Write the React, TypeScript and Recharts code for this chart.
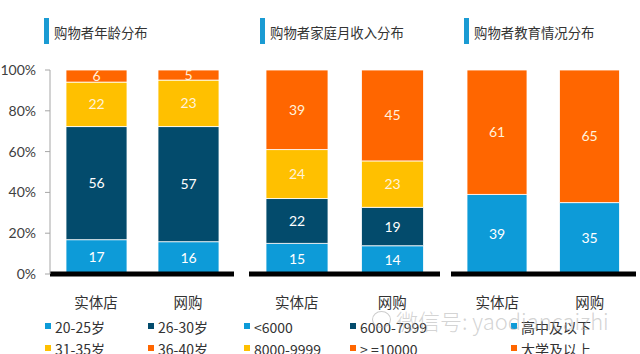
import { BarChart, Bar, XAxis, YAxis, LabelList } from 'recharts'

const STORES = ['实体店', '网购']

// 年龄
const AGE_20_25 = [17, 16]
const AGE_26_30 = [56, 57]
const AGE_31_35 = [22, 23]
const AGE_36_40 = [6, 5]

// 家庭月收入
const INC_LT_6000 = [15, 14]
const INC_6000_7999 = [22, 19]
const INC_8000_9999 = [24, 23]
const INC_GE_10000 = [39, 45]

// 教育
const EDU_HIGH = [39, 35]
const EDU_UNI = [61, 65]

const Y_TICKS = [0, 0.2, 0.4, 0.6, 0.8, 1]

const TITLES = ['购物者年龄分布', '购物者家庭月收入分布', '购物者教育情况分布']
const LEGEND_ROW1 = ['20-25岁', '26-30岁', '<6000', '6000-7999', '高中及以下']
const LEGEND_ROW2 = ['31-35岁', '36-40岁', '8000-9999', '> =10000', '大学及以上']

const BLUE = '#0d9bd8'
const NAVY = '#034b6c'
const YELLOW = '#ffc000'
const ORANGE = '#ff6600'

const CJK = '"Noto Sans CJK SC", sans-serif'
const NUM = 'Lato, "Noto Sans", sans-serif'

const rows = (series: Record<string, number[]>) =>
  STORES.map((name, i) => {
    const r: Record<string, string | number> = { name }
    Object.keys(series).forEach((k) => (r[k] = series[k][i]))
    return r
  })

const ageData = rows({ a: AGE_20_25, b: AGE_26_30, c: AGE_31_35, d: AGE_36_40 })
const incData = rows({ a: INC_LT_6000, b: INC_6000_7999, c: INC_8000_9999, d: INC_GE_10000 })
const eduData = rows({ a: EDU_HIGH, d: EDU_UNI })

type Props = {
  data: Record<string, string | number>[]
  keys: { key: string; color: string; label: string }[]
  left: number
  width: number
  margin: { left: number; right: number }
  barSize: number
  showY?: boolean
}

function Panel({ data, keys, left, width, margin, barSize, showY }: Props) {
  return (
    <div style={{ position: 'absolute', left, top: 0 }}>
      <BarChart
        width={width}
        height={354}
        data={data}
        stackOffset="expand"
        margin={{ top: 70, bottom: 40, left: margin.left, right: margin.right }}
      >
        <XAxis
          dataKey="name"
          height={40}
          tickSize={0}
          tickMargin={24}
          tickLine={false}
          axisLine={{ stroke: '#000', strokeWidth: 5 }}
          tick={{ fill: '#333', fontSize: 14.5, fontFamily: CJK }}
        />
        <YAxis
          hide={!showY}
          width={showY ? 50 : 0}
          domain={[0, 1]}
          ticks={Y_TICKS}
          tickSize={5}
          tickMargin={9}
          axisLine={{ stroke: '#a6a6a6' }}
          tickLine={{ stroke: '#a6a6a6' }}
          tick={{ fill: '#404040', fontSize: 14, fontFamily: NUM }}
          tickFormatter={(v) => `${Math.round(v * 100)}%`}
        />
        {keys.map((k) => (
          <Bar
            key={k.key}
            dataKey={k.key}
            stackId="s"
            fill={k.color}
            stroke="#fff"
            strokeWidth={0.8}
            barSize={barSize}
            isAnimationActive={false}
          >
            <LabelList
              dataKey={k.key}
              position="center"
              fill={k.label}
              fontSize={14}
              fontFamily={NUM}
            />
          </Bar>
        ))}
      </BarChart>
    </div>
  )
}

const LEG_COLORS1 = [BLUE, NAVY, BLUE, NAVY, BLUE]
const LEG_COLORS2 = [YELLOW, ORANGE, YELLOW, ORANGE, ORANGE]
const LEG_X = [45, 148, 244, 350, 511]

export default function App() {
  const light = '#ffffff'
  const cream = '#fff2dc'
  return (
    <div style={{ position: 'relative', width: 640, height: 354, background: '#fff', overflow: 'hidden' }}>
      <style>{`body{margin:0}`}</style>

      {TITLES.map((t, i) => {
        const bx = [44, 260, 464][i]
        return (
          <div key={t}>
            <div style={{ position: 'absolute', left: bx, top: 18, width: 5, height: 26, background: '#1a9bd3' }} />
            <div
              style={{
                position: 'absolute',
                left: bx + 10,
                top: 22,
                fontFamily: CJK,
                fontSize: 13.4,
                lineHeight: '20px',
                color: '#333',
                whiteSpace: 'nowrap',
              }}
            >
              {t}
            </div>
          </div>
        )
      })}

      <Panel
        data={ageData}
        left={0}
        width={240}
        margin={{ left: 0, right: 6 }}
        barSize={61}
        showY
        keys={[
          { key: 'a', color: BLUE, label: light },
          { key: 'b', color: NAVY, label: light },
          { key: 'c', color: YELLOW, label: cream },
          { key: 'd', color: ORANGE, label: cream },
        ]}
      />
      <Panel
        data={incData}
        left={240}
        width={210}
        margin={{ left: 9, right: 10 }}
        barSize={62}
        keys={[
          { key: 'a', color: BLUE, label: light },
          { key: 'b', color: NAVY, label: light },
          { key: 'c', color: YELLOW, label: cream },
          { key: 'd', color: ORANGE, label: cream },
        ]}
      />
      <Panel
        data={eduData}
        left={440}
        width={200}
        margin={{ left: 11, right: 4 }}
        barSize={60}
        keys={[
          { key: 'a', color: BLUE, label: light },
          { key: 'd', color: ORANGE, label: cream },
        ]}
      />

      {[LEGEND_ROW1, LEGEND_ROW2].map((row, r) =>
        row.map((label, i) => (
          <div
            key={label}
            style={{
              position: 'absolute',
              left: LEG_X[i],
              top: r === 0 ? 317 : 339,
              height: 20,
              display: 'flex',
              alignItems: 'center',
              fontFamily: CJK,
              fontSize: 14,
              color: '#333',
              whiteSpace: 'nowrap',
            }}
          >
            <span
              style={{
                display: 'inline-block',
                width: 6,
                height: 6,
                marginRight: 4,
                marginTop: -3,
                background: (r === 0 ? LEG_COLORS1 : LEG_COLORS2)[i],
              }}
            />
            {label}
          </div>
        ))
      )}

      {/* watermark */}
      <div
        style={{
          position: 'absolute',
          left: 372,
          top: 311,
          width: 17,
          height: 15,
          borderRadius: '50%',
          border: '1.5px solid rgba(170,170,170,0.6)',
        }}
      />
      <div
        style={{
          position: 'absolute',
          left: 396,
          top: 305,
          fontFamily: CJK,
          fontSize: 22,
          fontWeight: 300,
          lineHeight: '30px',
          color: 'rgba(175,175,175,0.55)',
          whiteSpace: 'nowrap',
        }}
      >
        微信号: yaodiancaizhi
      </div>
    </div>
  )
}
